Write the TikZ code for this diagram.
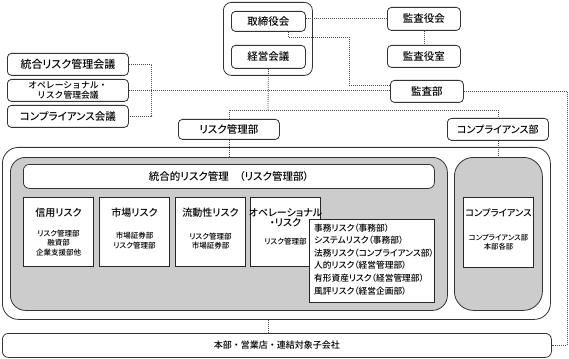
\documentclass[tikz,border=0pt]{standalone}
\usepackage{fontspec}
\setmainfont{Noto Sans CJK JP Medium}[RawFeature=+palt]
\newfontfamily\jpmono{Noto Sans CJK JP Medium}
\begin{document}
\begin{tikzpicture}[x=1pt,y=-1pt,
 rbox/.style={draw=black!80, line width=0.8pt, rounded corners=4pt, fill=white, inner sep=0pt, anchor=north west, font=\fontsize{10.5}{12}\selectfont},
 sqbox/.style={draw=black!85, line width=1pt, fill=white, inner sep=0pt, anchor=north west},
 bigbox/.style={draw=black!80, line width=0.8pt, inner sep=0pt, anchor=north west},
 conn/.style={draw=black!70, line width=0.8pt, dash pattern=on 1pt off 1pt},
 ttl/.style={font=\fontsize{10}{10.5}\selectfont, inner sep=0pt, align=center},
 subt/.style={font=\fontsize{7.5}{9.5}\selectfont, align=center, inner sep=0pt},
]
\useasboundingbox (0,0) rectangle (569,358);

% top group
\node[bigbox, rounded corners=8pt, minimum width=89pt, minimum height=73pt] (topgrp) at (223,2) {};
\node[rbox, minimum width=74pt, minimum height=20pt] (torishimari) at (231,11) {取締役会};
\node[rbox, minimum width=74pt, minimum height=23pt] (keiei) at (231,45) {経営会議};
\node[rbox, minimum width=73pt, minimum height=23pt] (kansayakukai) at (387,7) {監査役会};
\node[rbox, minimum width=73pt, minimum height=22pt] (kansayakushitsu) at (387,45) {監査役室};
\node[rbox, minimum width=73pt, minimum height=22pt] (kansabu) at (390,80) {監査部};

% committees
\node[rbox, minimum width=121pt, minimum height=22pt, font=\fontsize{11}{12}\selectfont] (togo) at (7,53) {統合リスク管理会議};
\node[rbox, minimum width=121pt, minimum height=22pt, align=center, font=\jpmono\fontsize{8.8}{10}\selectfont] (ope) at (7,79) {オペレーショナル・\\リスク管理会議};
\node[rbox, minimum width=121pt, minimum height=22pt] (comp) at (7,105) {コンプライアンス会議};

\node[rbox, minimum width=101pt, minimum height=20pt] (riskbu) at (178,119) {リスク管理部};
\node[rbox, minimum width=101pt, minimum height=22pt, font=\fontsize{10}{12}\selectfont] (compbu) at (447,118) {コンプライアンス部};

% big area
\node[bigbox, rounded corners=16pt, fill=white, minimum width=548pt, minimum height=172pt] (outerw) at (2,147) {};
\node[bigbox, rounded corners=15pt, fill=gray!40, minimum width=437pt, minimum height=153pt] (grayL) at (10,157) {};
\node[bigbox, rounded corners=19pt, fill=gray!40, minimum width=88pt, minimum height=153pt] (grayR) at (454,157) {};

\node[rbox, rounded corners=6pt, minimum width=411pt, minimum height=24pt] (togoteki) at (23,164) {統合的リスク管理　（リスク管理部）};

\node[sqbox, minimum width=70pt, minimum height=69pt] (shinyo) at (23,197) {};
\node[sqbox, minimum width=70pt, minimum height=69pt] (shijo) at (99,197) {};
\node[sqbox, minimum width=70pt, minimum height=69pt] (ryudo) at (175,197) {};
\node[sqbox, minimum width=70pt, minimum height=69pt] (opeR) at (250,197) {};
\node[sqbox, minimum width=125pt, minimum height=83pt] (list) at (309,219) {};
\node[sqbox, minimum width=70pt, minimum height=70pt] (compIn) at (463,197) {};

\node[ttl] at ([yshift=-16pt]shinyo.north) {信用リスク};
\node[subt] at ([yshift=-46pt]shinyo.north) {リスク管理部\\融資部\\企業支援部他};
\node[ttl] at ([yshift=-16pt]shijo.north) {市場リスク};
\node[subt] at ([yshift=-43.5pt]shijo.north) {市場証券部\\リスク管理部};
\node[ttl] at ([yshift=-16pt]ryudo.north) {流動性リスク};
\node[subt] at ([yshift=-44pt]ryudo.north) {リスク管理部\\市場証券部};
\node[ttl] at ([yshift=-21pt]opeR.north) {オペレーショナル\\・リスク};
\node[subt] at ([yshift=-45pt]opeR.north) {リスク管理部};
\node[anchor=north west, align=left, inner sep=0pt, font=\fontsize{8.7}{12.6}\selectfont] at ([xshift=5pt,yshift=-4.5pt]list.north west)
 {事務リスク（事務部）\\システムリスク（事務部）\\法務リスク（コンプライアンス部）\\人的リスク（経営管理部）\\有形資産リスク（経営管理部）\\風評リスク（経営企画部）};
\node[ttl, font=\fontsize{9.3}{10.5}\selectfont] at ([yshift=-16pt]compIn.north) {コンプライアンス};
\node[subt, font=\fontsize{7.3}{8.5}\selectfont] at ([yshift=-45pt]compIn.north) {コンプライアンス部\\本部各部};

\node[rbox, rounded corners=6pt, minimum width=549pt, minimum height=24pt, font=\jpmono\fontsize{9}{11}\selectfont] (honbu) at (2,333) {本部・営業店・連結対象子会社};

% connectors
\coordinate (bus) at (268,110);
\coordinate (rc) at (567,0);
\draw[conn] (kansayakukai.west) -- (kansayakukai.west -| torishimari.east);
\draw[conn] (kansayakukai.south) -- (kansayakushitsu.north);
\draw[conn] ([xshift=20pt]torishimari.south) |- (349,37) |- ([yshift=6pt]kansabu.west);
\draw[conn] (ope.east) -- (ope.east -| kansabu.west);
\draw[conn] (togo.east) -- ++(23,0) |- (comp.east);
\draw[conn] (keiei.south) -- (bus);
\draw[conn] (riskbu.north) |- (bus) -| (compbu.north);
\draw[conn] (riskbu.south) -- (riskbu.south |- grayL.north);
\draw[conn] (compbu.south) -- (compbu.south |- grayR.north);
\draw[conn] (keiei.south |- outerw.south) -- (keiei.south |- honbu.north);
\draw[conn] (kansabu.east) -| (rc |- honbu.east) -- (honbu.east);
\end{tikzpicture}
\end{document}
